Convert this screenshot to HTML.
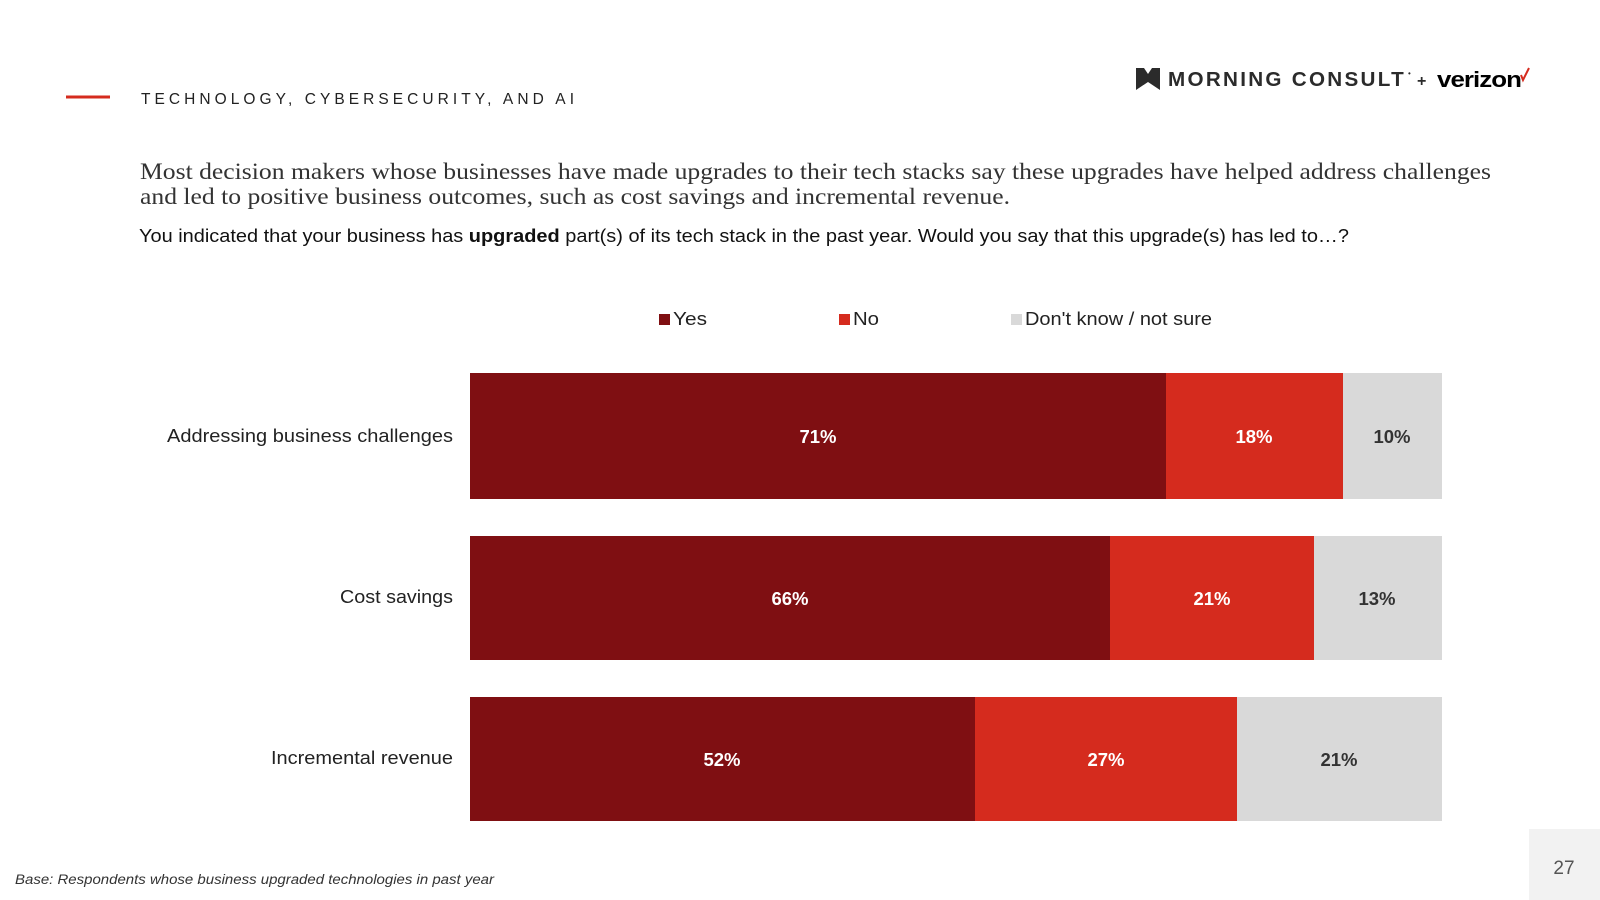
<!DOCTYPE html>
<html><head><meta charset="utf-8"><style>
html,body{margin:0;padding:0;background:#fff;}
svg{display:block;}
text{font-family:"Liberation Sans",Arial,sans-serif;}
</style></head><body>
<svg width="1600" height="900" viewBox="0 0 1600 900" xmlns="http://www.w3.org/2000/svg">
<rect width="1600" height="900" fill="#fff"/>
<line x1="66" y1="97" x2="110" y2="97" stroke="#d52b1e" stroke-width="3"/>
<text x="141" y="104" font-size="15.5" fill="#222" textLength="433" lengthAdjust="spacing">TECHNOLOGY, CYBERSECURITY, AND AI</text>
<!-- logo -->
<path d="M1136 68 L1144 68 L1148 74 L1152 68 L1160 68 L1160 90 L1148 82 L1136 90 Z" fill="#2b2b2b"/>
<text x="1168" y="86" font-size="20" font-weight="bold" fill="#2b2b2b" letter-spacing="2.2" textLength="238" lengthAdjust="spacingAndGlyphs">MORNING CONSULT</text>
<text x="1408" y="76" font-size="8" fill="#2b2b2b">•</text>
<text x="1417" y="86" font-size="16" font-weight="bold" fill="#2b2b2b">+</text>
<text x="1437" y="87" font-size="22" font-weight="bold" fill="#000" letter-spacing="-0.8" textLength="84" lengthAdjust="spacingAndGlyphs">verizon</text>
<path d="M1521 75 L1523 80 L1529 68" stroke="#d52b1e" stroke-width="2" fill="none"/>
<!-- title -->
<text x="140" y="179" font-size="23" fill="#333" textLength="1351" lengthAdjust="spacingAndGlyphs" style="font-family:'Liberation Serif',serif">Most decision makers whose businesses have made upgrades to their tech stacks say these upgrades have helped address challenges</text>
<text x="140" y="204" font-size="23" fill="#333" textLength="870" lengthAdjust="spacingAndGlyphs" style="font-family:'Liberation Serif',serif">and led to positive business outcomes, such as cost savings and incremental revenue.</text>
<text x="139" y="242" font-size="18.5" fill="#111" textLength="1210" lengthAdjust="spacingAndGlyphs">You indicated that your business has <tspan font-weight="bold">upgraded</tspan> part(s) of its tech stack in the past year. Would you say that this upgrade(s) has led to…?</text>
<!-- legend -->
<rect x="659" y="314" width="11" height="11" fill="#7f0f12"/>
<text x="673" y="325" font-size="18.5" fill="#222" textLength="34" lengthAdjust="spacingAndGlyphs">Yes</text>
<rect x="839" y="314" width="11" height="11" fill="#d52b1e"/>
<text x="853" y="325" font-size="18.5" fill="#222" textLength="26" lengthAdjust="spacingAndGlyphs">No</text>
<rect x="1011" y="314" width="11" height="11" fill="#d9d9d9"/>
<text x="1025" y="325" font-size="18.5" fill="#222" textLength="187" lengthAdjust="spacingAndGlyphs">Don't know / not sure</text>
<!-- bars -->
<g font-size="18.5" font-weight="bold" text-anchor="middle">
<rect x="470" y="373" width="696" height="126" fill="#7f0f12"/>
<rect x="1166" y="373" width="177" height="126" fill="#d52b1e"/>
<rect x="1343" y="373" width="99" height="126" fill="#d9d9d9"/>
<text x="818" y="443" fill="#fff">71%</text>
<text x="1254" y="443" fill="#fff">18%</text>
<text x="1392" y="443" fill="#333">10%</text>
<rect x="470" y="536" width="640" height="124" fill="#7f0f12"/>
<rect x="1110" y="536" width="204" height="124" fill="#d52b1e"/>
<rect x="1314" y="536" width="128" height="124" fill="#d9d9d9"/>
<text x="790" y="605" fill="#fff">66%</text>
<text x="1212" y="605" fill="#fff">21%</text>
<text x="1377" y="605" fill="#333">13%</text>
<rect x="470" y="697" width="505" height="124" fill="#7f0f12"/>
<rect x="975" y="697" width="262" height="124" fill="#d52b1e"/>
<rect x="1237" y="697" width="205" height="124" fill="#d9d9d9"/>
<text x="722" y="766" fill="#fff">52%</text>
<text x="1106" y="766" fill="#fff">27%</text>
<text x="1339" y="766" fill="#333">21%</text>
</g>
<g font-size="18.5" fill="#222">
<text x="167" y="442" textLength="286" lengthAdjust="spacingAndGlyphs">Addressing business challenges</text>
<text x="340" y="603" textLength="113" lengthAdjust="spacingAndGlyphs">Cost savings</text>
<text x="271" y="764" textLength="182" lengthAdjust="spacingAndGlyphs">Incremental revenue</text>
</g>
<text x="15" y="884" font-size="13.5" font-style="italic" fill="#333" textLength="479" lengthAdjust="spacingAndGlyphs">Base: Respondents whose business upgraded technologies in past year</text>
<rect x="1529" y="829" width="71" height="71" fill="#f2f2f2"/>
<text x="1564" y="874" font-size="19" fill="#555" text-anchor="middle">27</text>
</svg>
</body></html>
